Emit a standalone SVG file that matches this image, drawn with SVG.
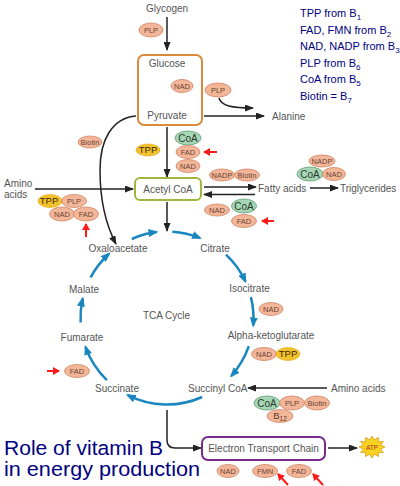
<svg xmlns="http://www.w3.org/2000/svg" width="400" height="486" viewBox="0 0 400 486">
<style>
text{font-family:"Liberation Sans",Arial,sans-serif}
.lbl{font-size:10px;fill:#555;text-anchor:middle}
.lbs{font-size:10px;fill:#555}
.leg{font-size:11px;fill:#00007f}
.big{font-size:20.5px;fill:#00007f}
.s{fill:#f3b699;stroke:#d08462;stroke-width:0.8}
.g{fill:#a6d6b4;stroke:#5f9f78;stroke-width:0.8}
.y{fill:#f3c12c;stroke:#e0a818;stroke-width:0.6}
.st{font-size:7.5px;fill:#6a4535;text-anchor:middle}
.gt{font-size:10px;fill:#2a3a30;text-anchor:middle}
.yt{font-size:9.5px;fill:#3a2a10;text-anchor:middle}
.blk{fill:none;stroke:#222;stroke-width:1.5}
.blu{fill:none;stroke:#1a86c0;stroke-width:2.5}
.red{fill:none;stroke:#ff1a1a;stroke-width:2}
.box{fill:#fff;stroke-width:2}
</style>
<defs>
<marker id="ab" markerUnits="userSpaceOnUse" markerWidth="9" markerHeight="7" refX="8" refY="3.5" orient="auto"><path d="M0,0 L9,3.5 L0,7 z" fill="#222"/></marker>
<marker id="au" markerUnits="userSpaceOnUse" markerWidth="10" markerHeight="8" refX="8" refY="4" orient="auto"><path d="M0,0 L10,4 L0,8 z" fill="#1a86c0"/></marker>
<marker id="ar" markerUnits="userSpaceOnUse" markerWidth="7" markerHeight="8" refX="6" refY="4" orient="auto"><path d="M0,0 L7,4 L0,8 z" fill="#ff1a1a"/></marker>
</defs>
<rect width="400" height="486" fill="#fff"/>

<g id="connectors">
<path class="blk" d="M167,17 L167,50" marker-end="url(#ab)"/>
<path class="blk" d="M167,73 L167,104" marker-end="url(#ab)"/>
<path class="blk" d="M204,116 L264,116" marker-end="url(#ab)"/>
<path class="blk" d="M219,98 C221,106 232,108 253,108" marker-end="url(#ab)"/>
<path class="blk" d="M167,127 L167,177" marker-end="url(#ab)"/>
<path class="blk" d="M35,189 L133,189" marker-end="url(#ab)"/>
<path class="blk" d="M136,116 C112,118 100,140 100,170 C100,200 106,225 116,244" marker-end="url(#ab)"/>
<path class="blk" d="M204,187 L256,187" marker-end="url(#ab)"/>
<path class="blk" d="M255,194.5 L204,194.5" marker-end="url(#ab)"/>
<path class="blk" d="M310,188 L338,188" marker-end="url(#ab)"/>
<path class="blk" d="M167,202 L167,231" marker-end="url(#ab)"/>
<path class="blk" d="M327,388 L248,388" marker-end="url(#ab)"/>
<path class="blk" d="M167,410 L167,440 Q167,448 175,448 L201,448" marker-end="url(#ab)"/>
<path class="blk" d="M328,448 L357,448" marker-end="url(#ab)"/>

<path class="blu" d="M131.8,239 A86.5,86.5 0 0 1 156.5,232.1" marker-end="url(#au)"/>
<path class="blu" d="M172.3,231.7 A86.5,86.5 0 0 1 200,238" marker-end="url(#au)"/>
<path class="blu" d="M226,254.7 A86.5,86.5 0 0 1 245.4,281.4" marker-end="url(#au)"/>
<path class="blu" d="M250.9,297.1 A86.5,86.5 0 0 1 253.2,325.5" marker-end="url(#au)"/>
<path class="blu" d="M248.8,346.2 A86.5,86.5 0 0 1 231.3,375.9" marker-end="url(#au)"/>
<path class="blu" d="M202.2,397 A86.5,86.5 0 0 1 127.7,395.1" marker-end="url(#au)"/>
<path class="blu" d="M106.9,380.2 A86.5,86.5 0 0 1 85.5,346.9" marker-end="url(#au)"/>
<path class="blu" d="M80.6,322.5 A86.5,86.5 0 0 1 82.7,298.5" marker-end="url(#au)"/>
<path class="blu" d="M90.6,277.4 A86.5,86.5 0 0 1 109.1,253.7" marker-end="url(#au)"/>

<path class="red" d="M217,152 L204,152" marker-end="url(#ar)"/>
<path class="red" d="M86,237 L86,224" marker-end="url(#ar)"/>
<path class="red" d="M274,221 L262,221" marker-end="url(#ar)"/>
<path class="red" d="M47,371 L59,371" marker-end="url(#ar)"/>
<path class="red" d="M288,485 L278,474" marker-end="url(#ar)"/>
<path class="red" d="M323,485 L313,474" marker-end="url(#ar)"/>
</g>

<g id="legend">
<text class="leg" x="300" y="17">TPP from B<tspan font-size="8" dy="3">1</tspan></text>
<text class="leg" x="300" y="33.5">FAD, FMN from B<tspan font-size="8" dy="3">2</tspan></text>
<text class="leg" x="300" y="50">NAD, NADP from B<tspan font-size="8" dy="3">3</tspan></text>
<text class="leg" x="300" y="66.5">PLP from B<tspan font-size="8" dy="3">6</tspan></text>
<text class="leg" x="300" y="83">CoA from B<tspan font-size="8" dy="3">5</tspan></text>
<text class="leg" x="300" y="100">Biotin = B<tspan font-size="8" dy="3">7</tspan></text>
</g>

<g id="title">
<text class="big" x="4" y="455" textLength="159" lengthAdjust="spacingAndGlyphs">Role of vitamin B</text>
<text class="big" x="4" y="476" textLength="196" lengthAdjust="spacingAndGlyphs">in energy production</text>
</g>

<g id="glycogen"><text class="lbl" x="167" y="12">Glycogen</text></g>
<g id="glucose-box"><rect class="box" x="138" y="55" width="64" height="70" rx="6" stroke="#d98a3c"/>
<text class="lbl" x="167" y="67">Glucose</text><text class="lbl" x="167" y="119">Pyruvate</text></g>
<g id="alanine"><text class="lbs" x="272" y="120">Alanine</text></g>
<g id="acetyl-coa"><rect class="box" x="135" y="178" width="66" height="22" rx="5" stroke="#9db83c"/>
<text class="lbl" x="168" y="192.5">Acetyl CoA</text></g>
<g id="amino-left"><text class="lbs" x="4" y="186.5">Amino</text><text class="lbs" x="4" y="198">acids</text></g>
<g id="fatty-acids"><text class="lbs" x="258" y="191.5">Fatty acids</text></g>
<g id="triglycerides"><text class="lbs" x="340" y="191.5">Triglycerides</text></g>
<g id="oxaloacetate"><text class="lbl" x="118" y="251.5">Oxaloacetate</text></g>
<g id="citrate"><text class="lbl" x="215" y="251.5">Citrate</text></g>
<g id="isocitrate"><text class="lbl" x="249.5" y="291.5">Isocitrate</text></g>
<g id="alpha-kg"><text class="lbl" x="271" y="339">Alpha-ketoglutarate</text></g>
<g id="tca"><text class="lbl" x="166.5" y="319">TCA Cycle</text></g>
<g id="malate"><text class="lbl" x="84" y="292.5">Malate</text></g>
<g id="fumarate"><text class="lbl" x="82" y="340.5">Fumarate</text></g>
<g id="succinate"><text class="lbl" x="117" y="391.5">Succinate</text></g>
<g id="succinyl-coa"><text class="lbs" x="188" y="391.5">Succinyl CoA</text></g>
<g id="amino-right"><text class="lbs" x="331" y="391.5">Amino acids</text></g>
<g id="etc"><rect class="box" x="202" y="437" width="123" height="23" rx="6" stroke="#7a2a8c"/>
<text class="lbl" x="263.5" y="452">Electron Transport Chain</text></g>
<g id="atp"><polygon points="385,447 380.7,448.9 383.3,452.5 378.4,452.3 378.5,456.5 374.3,454.2 372,458 369.7,454.2 365.5,456.5 365.6,452.3 360.7,452.5 363.3,448.9 359,447 363.3,445.1 360.7,441.5 365.6,441.7 365.5,437.5 369.7,439.8 372,436 374.3,439.8 378.5,437.5 378.4,441.7 383.3,441.5 380.7,445.1" fill="#f7d21e" stroke="#e09a20" stroke-width="0.8"/>
<text x="372" y="449.5" font-size="6.5" fill="#a83020" text-anchor="middle">ATP</text></g>

<g id="cof-glycogen"><ellipse class="s" cx="151" cy="30" rx="12" ry="7"/><text class="st" x="151" y="32.7">PLP</text></g>
<g id="cof-glucose"><ellipse class="s" cx="182" cy="86" rx="11" ry="6.5"/><text class="st" x="182" y="88.7">NAD</text></g>
<g id="cof-alanine"><ellipse class="s" cx="218" cy="90" rx="13" ry="7"/><text class="st" x="218" y="92.7">PLP</text></g>
<g id="cof-biotin-oaa"><ellipse class="s" cx="90" cy="142" rx="12" ry="6"/><text class="st" x="90" y="144.7">Biotin</text></g>
<g id="cof-pdh">
<ellipse class="y" cx="148" cy="150" rx="12" ry="6"/><text class="yt" x="148" y="153.3">TPP</text>
<ellipse class="g" cx="188" cy="138" rx="13" ry="7"/><text class="gt" x="188" y="141.5">CoA</text>
<ellipse class="s" cx="188" cy="152" rx="12" ry="6.5"/><text class="st" x="188" y="154.7">FAD</text>
<ellipse class="s" cx="188" cy="166" rx="12" ry="6.5"/><text class="st" x="188" y="168.7">NAD</text>
</g>
<g id="cof-amino">
<ellipse class="y" cx="50" cy="201" rx="12" ry="6.5"/><text class="yt" x="49" y="204.3">TPP</text>
<ellipse class="s" cx="74" cy="201" rx="12.5" ry="6.5"/><text class="st" x="74" y="203.7">PLP</text>
<ellipse class="s" cx="62" cy="214" rx="12.5" ry="7"/><text class="st" x="62" y="216.7">NAD</text>
<ellipse class="s" cx="86" cy="214" rx="12.5" ry="7"/><text class="st" x="86" y="216.7">FAD</text>
</g>
<g id="cof-fatty-up">
<ellipse class="s" cx="222" cy="175" rx="12.5" ry="6"/><text class="st" x="222" y="177.7">NADP</text>
<ellipse class="s" cx="247" cy="175" rx="12.5" ry="6"/><text class="st" x="247" y="177.7">Biotin</text>
</g>
<g id="cof-fatty-down">
<ellipse class="s" cx="217" cy="210" rx="12.5" ry="6"/><text class="st" x="217" y="212.7">NAD</text>
<ellipse class="g" cx="244" cy="206" rx="12.5" ry="7"/><text class="gt" x="244" y="209.5">CoA</text>
<ellipse class="s" cx="244" cy="221" rx="12.5" ry="6.5"/><text class="st" x="244" y="223.7">FAD</text>
</g>
<g id="cof-trig">
<ellipse class="s" cx="322" cy="161" rx="13" ry="6"/><text class="st" x="322" y="163.7">NADP</text>
<ellipse class="g" cx="310" cy="174" rx="13" ry="7"/><text class="gt" x="310" y="177.5">CoA</text>
<ellipse class="s" cx="334" cy="174" rx="11.5" ry="6.5"/><text class="st" x="334" y="176.7">NAD</text>
</g>
<g id="cof-iso"><ellipse class="s" cx="271" cy="309" rx="12" ry="6.5"/><text class="st" x="271" y="311.7">NAD</text></g>
<g id="cof-akg">
<ellipse class="s" cx="264" cy="354" rx="12.5" ry="6.5"/><text class="st" x="264" y="356.7">NAD</text>
<ellipse class="y" cx="288" cy="354" rx="12" ry="6.5"/><text class="yt" x="288" y="357.3">TPP</text>
</g>
<g id="cof-succinate"><ellipse class="s" cx="77" cy="371" rx="12.5" ry="6.5"/><text class="st" x="77" y="373.7">FAD</text></g>
<g id="cof-succinyl">
<ellipse class="g" cx="267" cy="403" rx="13" ry="7"/><text class="gt" x="267" y="406.5">CoA</text>
<ellipse class="s" cx="292" cy="403" rx="12.5" ry="7"/><text class="st" x="292" y="405.7">PLP</text>
<ellipse class="s" cx="317" cy="403" rx="12.5" ry="7"/><text class="st" x="317" y="405.7">Biotin</text>
<ellipse class="s" cx="280" cy="416" rx="13" ry="6.5"/><text x="280" y="419" font-size="9.5" fill="#5a3a2a" text-anchor="middle">B<tspan font-size="6.5" dy="2">12</tspan></text>
</g>
<g id="cof-etc">
<ellipse class="s" cx="228" cy="471" rx="11" ry="6.5"/><text class="st" x="228" y="473.7">NAD</text>
<ellipse class="s" cx="265" cy="471" rx="12.5" ry="6.5"/><text class="st" x="265" y="473.7">FMN</text>
<ellipse class="s" cx="299" cy="471" rx="12.5" ry="6.5"/><text class="st" x="299" y="473.7">FAD</text>
</g>
</svg>
